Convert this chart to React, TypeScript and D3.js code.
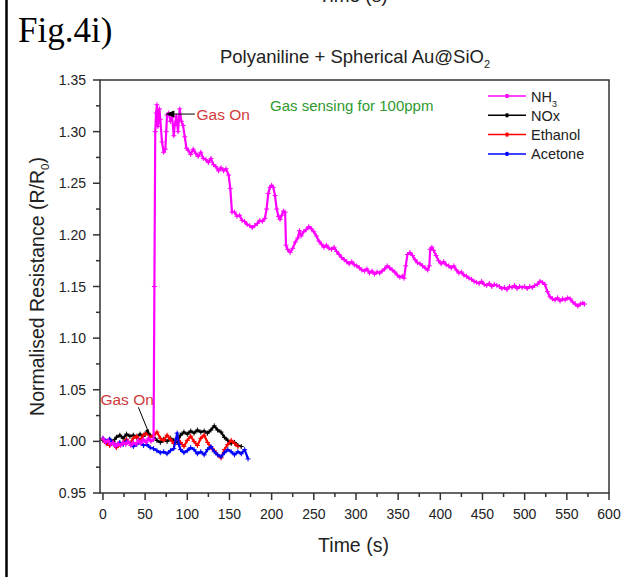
import React from "react";
import * as d3 from "d3";

const W = 624, H = 577;

const xTicks = [0, 50, 100, 150, 200, 250, 300, 350, 400, 450, 500, 550, 600];
const yTicks = [0.95, 1.0, 1.05, 1.1, 1.15, 1.2, 1.25, 1.3, 1.35];

const nh3: [number, number][] = [
  [0,1.003],[3,0.999],[6,1.001],[9,0.997],[12,0.999],[15,0.995],[18,0.998],[21,0.996],[24,0.999],[27,0.997],[30,1.000],[33,0.996],[36,0.999],[39,0.997],[42,1.001],[45,0.998],[48,1.002],[51,0.999],[54,1.003],[57,1.000],[60,1.002],
  [61,1.15],[62,1.30],[63,1.318],[64,1.326],[65,1.305],[66,1.31],[67,1.322],[68,1.312],[70,1.29],[72,1.28],[74,1.283],[75,1.30],[76,1.316],[78,1.318],[80,1.31],[82,1.314],[84,1.296],[85,1.306],[87,1.315],[89,1.300],[91,1.322],[93,1.310],[95,1.306],[97,1.295],[99,1.284],[101,1.282],[104,1.278],[107,1.283],[110,1.279],[113,1.276],[116,1.280],[119,1.274],[122,1.273],[125,1.270],[128,1.274],[131,1.268],[134,1.266],[137,1.262],[140,1.265],[143,1.262],[146,1.264],[149,1.258],[151,1.245],[153,1.222],[156,1.222],[159,1.218],[162,1.219],[165,1.214],[168,1.213],[171,1.210],[174,1.209],[177,1.207],[180,1.209],[183,1.211],[186,1.214],[189,1.213],[192,1.216],[194,1.225],[196,1.240],[198,1.246],[200,1.248],[202,1.246],[204,1.238],[206,1.225],[208,1.218],[210,1.215],[212,1.219],[214,1.223],[216,1.222],[217,1.190],[219,1.186],[222,1.183],[225,1.187],[228,1.193],[231,1.197],[233,1.204],[235,1.199],[238,1.203],[241,1.205],[244,1.208],[247,1.206],[250,1.203],[253,1.199],[256,1.194],[259,1.191],[262,1.188],[265,1.190],[268,1.187],[271,1.186],[274,1.188],[277,1.184],[280,1.181],[283,1.178],[286,1.176],[289,1.174],[292,1.172],[295,1.174],[298,1.171],[301,1.170],[304,1.168],[307,1.166],[310,1.165],[313,1.167],[316,1.163],[319,1.165],[322,1.162],[325,1.164],[328,1.163],[331,1.165],[334,1.167],[337,1.170],[340,1.168],[343,1.166],[346,1.164],[349,1.161],[352,1.159],[355,1.160],[357,1.158],[359,1.170],[361,1.181],[364,1.183],[367,1.180],[370,1.176],[373,1.173],[376,1.172],[379,1.170],[382,1.168],[385,1.166],[387,1.170],[388,1.186],[390,1.188],[392,1.185],[395,1.180],[398,1.175],[401,1.172],[404,1.174],[407,1.171],[410,1.170],[413,1.168],[416,1.170],[419,1.166],[422,1.163],[425,1.164],[428,1.161],[431,1.160],[434,1.158],[437,1.157],[440,1.155],[443,1.154],[446,1.153],[449,1.155],[452,1.152],[455,1.151],[458,1.153],[461,1.150],[464,1.152],[467,1.151],[470,1.150],[473,1.148],[476,1.149],[479,1.147],[482,1.150],[485,1.149],[488,1.151],[491,1.148],[494,1.150],[497,1.149],[500,1.150],[503,1.148],[506,1.150],[509,1.149],[512,1.151],[515,1.152],[518,1.155],[521,1.154],[524,1.152],[527,1.145],[530,1.140],[533,1.138],[536,1.137],[539,1.139],[542,1.136],[545,1.138],[548,1.137],[551,1.139],[554,1.138],[557,1.135],[560,1.133],[563,1.131],[566,1.133],[569,1.134],[571,1.133]
];

const nox: [number, number][] = [
  [0,1.001],[4,0.999],[8,1.002],[12,1.000],[16,1.004],[20,1.006],[24,1.003],[28,1.007],[32,1.005],[36,1.006],[40,1.004],[44,1.007],[48,1.005],[52,1.009],[56,1.006],[60,1.004],[64,1.001],[68,0.999],[72,1.002],[76,1.000],[80,1.003],[84,1.001],[88,0.999],[92,1.006],[96,1.009],[100,1.007],[104,1.010],[108,1.008],[112,1.011],[116,1.009],[120,1.010],[124,1.008],[128,1.011],[132,1.015],[136,1.011],[140,1.009],[144,1.004],[148,1.001],[152,0.998],[156,0.999],[160,0.996],[164,0.995]
];

const ethanol: [number, number][] = [
  [0,1.002],[4,0.998],[8,0.996],[12,0.999],[16,0.994],[20,0.997],[24,0.999],[28,1.002],[32,0.998],[36,1.003],[40,1.005],[44,1.001],[48,1.006],[52,1.008],[56,1.004],[60,1.006],[64,1.009],[68,1.003],[72,1.001],[76,1.006],[80,1.002],[84,0.998],[88,1.003],[92,0.999],[96,0.995],[100,1.001],[104,1.005],[108,1.000],[112,0.996],[116,1.003],[120,1.006],[124,0.999],[128,0.994],[132,0.991],[136,0.987],[140,0.984],[144,0.992],[148,0.997],[152,1.001],[156,0.998],[160,0.995]
];

const acetone: [number, number][] = [
  [0,1.003],[4,1.000],[8,1.002],[12,0.998],[16,0.996],[20,0.999],[24,0.997],[28,1.000],[32,0.998],[36,0.995],[40,0.997],[44,0.999],[48,0.996],[52,0.997],[56,0.994],[60,0.993],[64,0.991],[68,0.989],[72,0.990],[76,0.988],[80,0.991],[84,0.993],[88,1.008],[90,0.997],[92,0.992],[96,0.989],[100,0.991],[104,0.994],[108,0.992],[112,0.988],[116,0.990],[120,0.987],[124,0.992],[128,0.995],[132,0.990],[136,0.987],[140,0.985],[144,0.989],[148,0.992],[152,0.990],[156,0.987],[160,0.990],[164,0.988],[168,0.992],[172,0.983]
];

const seriesNames = ["NH3", "NOx", "Ethanol", "Acetone"];
const seriesColors = ["#ff00ff", "#000000", "#ff0000", "#0000ff"];

const FONT = "'Liberation Sans', Arial, sans-serif";

export default function App() {
  const x = d3.scaleLinear().domain([-3.5, 600]).range([100, 609]);
  const y = d3.scaleLinear().domain([0.95, 1.35]).range([493, 80]);
  const line = d3.line<[number, number]>().x(d => x(d[0])).y(d => y(d[1]));

  const minorX = d3.range(25, 600, 50);
  const minorY = d3.range(0.975, 1.35, 0.05);

  const drawOrder: { data: [number, number][]; color: string }[] = [
    { data: nox, color: seriesColors[1] },
    { data: ethanol, color: seriesColors[2] },
    { data: acetone, color: seriesColors[3] },
    { data: nh3, color: seriesColors[0] },
  ];

  const red = "#d03a3a";
  const axL = x(-3.5), axR = x(600), axT = y(1.35), axB = y(0.95);

  return (
    <svg width={W} height={H} style={{ position: "absolute", left: 0, top: 0, background: "#fff" }} fontFamily={FONT}>
      <rect x={0} y={0} width={W} height={H} fill="#fff" />
      <line x1={6.5} x2={6.5} y1={0} y2={H} stroke="#000" strokeWidth={2.5} />
      <text x={353} y={2} fontSize={19} textAnchor="middle" fill="#222">Time (s)</text>
      <text x={18} y={42} fontSize={35} fontFamily="'Liberation Serif', 'Times New Roman', serif" fill="#000">Fig.4i)</text>
      <text x={355} y={63} fontSize={18.5} textAnchor="middle" fill="#222">
        Polyaniline + Spherical Au@SiO<tspan fontSize={11} dy={5}>2</tspan>
      </text>

      {/* series */}
      {drawOrder.map((s, i) => (
        <g key={i}>
          <path d={line(s.data) || ""} fill="none" stroke={s.color} strokeWidth={2.2} strokeLinejoin="round" />
          {s.data.map((d, j) => (
            <path key={j} d={`M${x(d[0]) - 2.5},${y(d[1])}h5M${x(d[0])},${y(d[1]) - 2.5}v5`} stroke={s.color} strokeWidth={1} />
          ))}
        </g>
      ))}

      {/* axes frame */}
      <rect x={axL} y={axT} width={axR - axL} height={axB - axT} fill="none" stroke="#333" strokeWidth={1.5} />
      {xTicks.map(t => (
        <g key={"xt" + t}>
          <line x1={x(t)} x2={x(t)} y1={axB} y2={axB + 7} stroke="#333" strokeWidth={1.5} />
          <text x={x(t)} y={axB + 26} fontSize={14} textAnchor="middle" fill="#222">{t}</text>
        </g>
      ))}
      {minorX.map(t => (
        <line key={"xm" + t} x1={x(t)} x2={x(t)} y1={axB} y2={axB + 4} stroke="#333" strokeWidth={1.5} />
      ))}
      {yTicks.map(t => (
        <g key={"yt" + t}>
          <line x1={axL - 7} x2={axL} y1={y(t)} y2={y(t)} stroke="#333" strokeWidth={1.5} />
          <text x={axL - 14} y={y(t) + 5} fontSize={14} textAnchor="end" fill="#222">{t.toFixed(2)}</text>
        </g>
      ))}
      {minorY.map(t => (
        <line key={"ym" + t} x1={axL - 4} x2={axL} y1={y(t)} y2={y(t)} stroke="#333" strokeWidth={1.5} />
      ))}

      <text x={353.5} y={552} fontSize={19.5} textAnchor="middle" fill="#222">Time (s)</text>
      <text transform={`translate(44,${(axB + axT) / 2}) rotate(-90)`} fontSize={19.5} textAnchor="middle" fill="#222">
        Normalised Resistance (R/R<tspan fontSize={11.5} dy={5}>0</tspan><tspan dy={-5}>)</tspan>
      </text>

      {/* annotations */}
      <text x={x(111)} y={y(1.317) + 5.5} fontSize={15.5} fill={red}>Gas On</text>
      <line x1={x(109)} x2={x(79)} y1={y(1.317)} y2={y(1.317)} stroke="#000" strokeWidth={1} />
      <path d={`M${x(74)},${y(1.317)}l9,-3.5v7z`} fill="#000" />

      <text x={x(-3)} y={y(1.041) + 5.5} fontSize={15.5} fill={red}>Gas On</text>
      <line x1={x(42)} y1={y(1.033)} x2={x(54)} y2={y(1.009)} stroke="#000" strokeWidth={1} />
      <path d={`M${x(55.5)},${y(1.005)}l-4.5,-6l3.5,-1z`} fill="#000" />

      <text x={270} y={y(1.3195)} fontSize={15} fill="#2e9a2e">Gas sensing for 100ppm</text>

      {/* legend */}
      {seriesNames.map((n, i) => {
        const ly = 96 + i * 19.3;
        return (
          <g key={n}>
            <line x1={488} x2={526} y1={ly} y2={ly} stroke={seriesColors[i]} strokeWidth={1.5} />
            <path d={`M505.5,${ly - 2}h3v4h-3z`} fill={seriesColors[i]} />
            <text x={531} y={ly + 5.5} fontSize={14.5} fill="#222">
              {n === "NH3" ? (<>NH<tspan fontSize={9} dy={5}>3</tspan></>) : n}
            </text>
          </g>
        );
      })}
    </svg>
  );
}
